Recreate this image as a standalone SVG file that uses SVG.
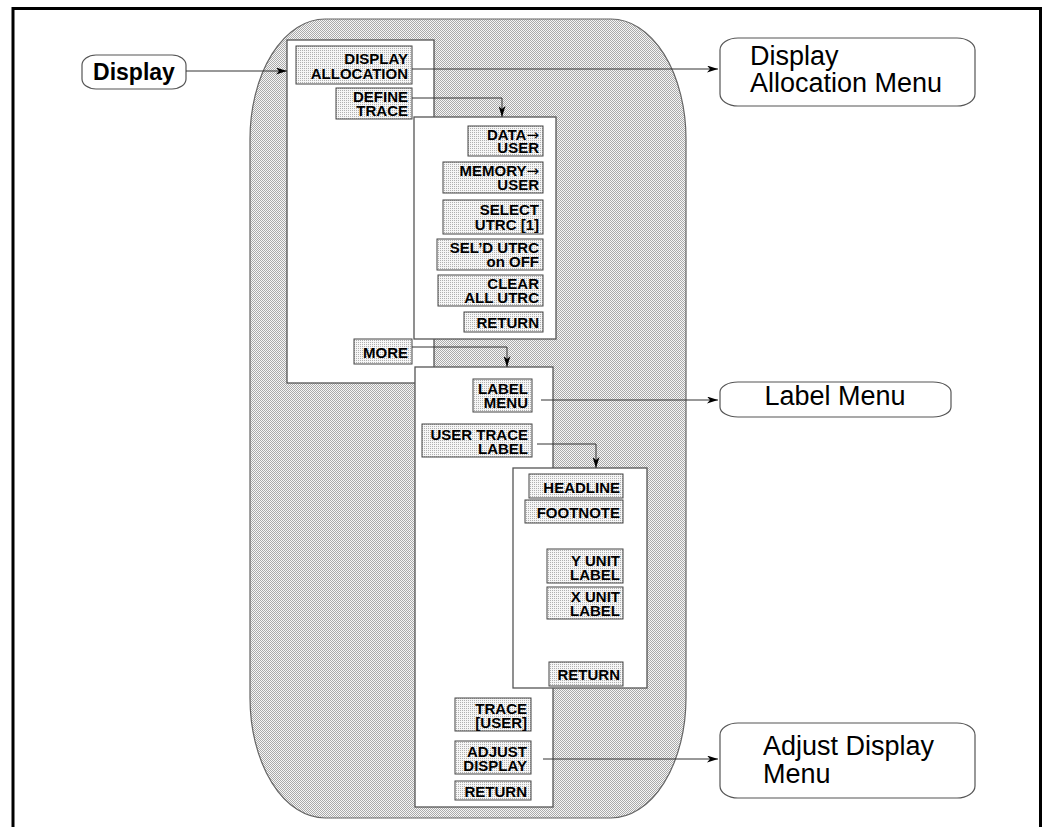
<svg xmlns="http://www.w3.org/2000/svg" width="1044" height="827" viewBox="0 0 1044 827">
<style>
.frame{fill:none;stroke:#000;stroke-width:3}
.bigshape{fill:url(#bg);stroke:#666;stroke-width:1.2}
.panel{fill:#fff;stroke:#555;stroke-width:1.3}
.btn{fill:url(#dots);stroke:#444;stroke-width:1}
.bt{font-family:"Liberation Sans",Arial,sans-serif;font-weight:bold;font-size:15px;fill:#000;text-anchor:end}
.ar{font-family:"DejaVu Sans",sans-serif;font-weight:normal;font-size:15px}
.menu{fill:#fff;stroke:#555;stroke-width:1.2}
.mt{font-family:"Liberation Sans",Arial,sans-serif;font-size:27px;fill:#000}
.conn{fill:none;stroke:#333;stroke-width:1}
</style>
<defs>
<pattern id="bg" width="2" height="2" patternUnits="userSpaceOnUse">
<rect width="2" height="2" fill="#f6f6f6"/>
<rect x="0" y="0" width="1" height="1" fill="#aaaaaa"/>
<rect x="1" y="1" width="1" height="1" fill="#aaaaaa"/>
</pattern>
<pattern id="dots" width="2" height="2" patternUnits="userSpaceOnUse">
<rect width="2" height="2" fill="#f6f6f6"/>
<rect x="0" y="0" width="1" height="1" fill="#b0b0b0"/>
</pattern>
<marker id="arr" markerWidth="11" markerHeight="7" refX="11" refY="3.5" orient="auto" markerUnits="userSpaceOnUse">
<path d="M0,0 L11,3.5 L0,7 L3,3.5 z" fill="#000"/>
</marker>
</defs>

<path class="frame" d="M13,827 V8.5 H1040.5 V827"/>

<path id="menu-region" class="bigshape" d="M325,19 H611 A75,120 0 0 1 686,139 V698 A75,120 0 0 1 611,818 H325 A75,120 0 0 1 250,698 V139 A75,120 0 0 1 325,19 Z"/>

<g id="display-key">
<rect class="menu" x="82" y="55" width="104" height="34" rx="14" ry="10"/>
<text x="134" y="80" font-family="Liberation Sans,Arial,sans-serif" font-weight="bold" font-size="23" text-anchor="middle">Display</text>
</g>

<g id="panel-display">
<rect class="panel" x="287" y="40" width="147" height="343"/>
<g id="btn-display-allocation"><rect class="btn" x="296" y="46" width="116" height="38"/><text class="bt" x="408" y="64">DISPLAY</text><text class="bt" x="408" y="79">ALLOCATION</text></g>
<g id="btn-define-trace"><rect class="btn" x="336" y="88" width="76" height="31"/><text class="bt" x="408" y="102">DEFINE</text><text class="bt" x="408" y="116">TRACE</text></g>
<g id="btn-more"><rect class="btn" x="354" y="339" width="58" height="25"/><text class="bt" x="408" y="358">MORE</text></g>
</g>

<g id="panel-define-trace">
<rect class="panel" x="414" y="117" width="142" height="222"/>
<g id="btn-data-user"><rect class="btn" x="468" y="126" width="75" height="30"/><text class="bt" x="539" y="140">DATA<tspan class="ar">→</tspan></text><text class="bt" x="539" y="153">USER</text></g>
<g id="btn-memory-user"><rect class="btn" x="443" y="162" width="100" height="31"/><text class="bt" x="539" y="176">MEMORY<tspan class="ar">→</tspan></text><text class="bt" x="539" y="190">USER</text></g>
<g id="btn-select-utrc"><rect class="btn" x="443" y="200" width="100" height="34"/><text class="bt" x="539" y="215">SELECT</text><text class="bt" x="539" y="230">UTRC [1]</text></g>
<g id="btn-seld-utrc"><rect class="btn" x="437" y="239" width="106" height="31"/><text class="bt" x="539" y="253">SEL’D UTRC</text><text class="bt" x="539" y="267">on OFF</text></g>
<g id="btn-clear-all"><rect class="btn" x="438" y="275" width="105" height="31"/><text class="bt" x="539" y="289">CLEAR</text><text class="bt" x="539" y="303">ALL UTRC</text></g>
<g id="btn-return-1"><rect class="btn" x="464" y="312" width="79" height="20"/><text class="bt" x="539" y="328">RETURN</text></g>
</g>

<g id="panel-more">
<rect class="panel" x="415" y="367" width="138" height="440"/>
<g id="btn-label-menu"><rect class="btn" x="473" y="379" width="59" height="33"/><text class="bt" x="528" y="394">LABEL</text><text class="bt" x="528" y="408">MENU</text></g>
<g id="btn-user-trace-label"><rect class="btn" x="422" y="424" width="110" height="33"/><text class="bt" x="528" y="440">USER TRACE</text><text class="bt" x="528" y="454">LABEL</text></g>
<g id="btn-trace-user"><rect class="btn" x="455" y="698" width="76" height="33"/><text class="bt" x="527" y="714">TRACE</text><text class="bt" x="527" y="728">[USER]</text></g>
<g id="btn-adjust-display"><rect class="btn" x="455" y="741" width="76" height="33"/><text class="bt" x="527" y="757">ADJUST</text><text class="bt" x="527" y="771">DISPLAY</text></g>
<g id="btn-return-2"><rect class="btn" x="455" y="781" width="76" height="19"/><text class="bt" x="527" y="797">RETURN</text></g>
</g>

<g id="panel-user-trace-label">
<rect class="panel" x="513" y="468" width="134" height="220"/>
<g id="btn-headline"><rect class="btn" x="529" y="474" width="94" height="24"/><text class="bt" x="620" y="493">HEADLINE</text></g>
<g id="btn-footnote"><rect class="btn" x="525" y="500" width="98" height="23"/><text class="bt" x="620" y="518">FOOTNOTE</text></g>
<g id="btn-y-unit"><rect class="btn" x="547" y="549" width="76" height="34"/><text class="bt" x="620" y="566">Y UNIT</text><text class="bt" x="620" y="580">LABEL</text></g>
<g id="btn-x-unit"><rect class="btn" x="547" y="587" width="76" height="32"/><text class="bt" x="620" y="602">X UNIT</text><text class="bt" x="620" y="616">LABEL</text></g>
<g id="btn-return-3"><rect class="btn" x="549" y="662" width="74" height="24"/><text class="bt" x="620" y="680">RETURN</text></g>
</g>

<g id="display-allocation-menu">
<rect class="menu" x="720" y="38" width="255" height="68" rx="18" ry="12"/>
<text class="mt" x="750" y="65">Display</text>
<text class="mt" x="750" y="92">Allocation Menu</text>
</g>
<g id="label-menu">
<rect class="menu" x="720" y="382" width="231" height="35" rx="18" ry="10"/>
<text class="mt" x="835" y="405" text-anchor="middle">Label Menu</text>
</g>
<g id="adjust-display-menu">
<rect class="menu" x="720" y="723" width="255" height="75" rx="18" ry="12"/>
<text class="mt" x="763" y="755">Adjust Display</text>
<text class="mt" x="763" y="783">Menu</text>
</g>

<g id="connectors">
<path class="conn" d="M186,71 H287" marker-end="url(#arr)"/>
<path class="conn" d="M412,69 H718" marker-end="url(#arr)"/>
<path class="conn" d="M412,98 H502 V117" marker-end="url(#arr)"/>
<path class="conn" d="M412,347 H507 V367" marker-end="url(#arr)"/>
<path class="conn" d="M541,400 H718" marker-end="url(#arr)"/>
<path class="conn" d="M537,444 H596 V468" marker-end="url(#arr)"/>
<path class="conn" d="M543,759 H718" marker-end="url(#arr)"/>
</g>
</svg>
